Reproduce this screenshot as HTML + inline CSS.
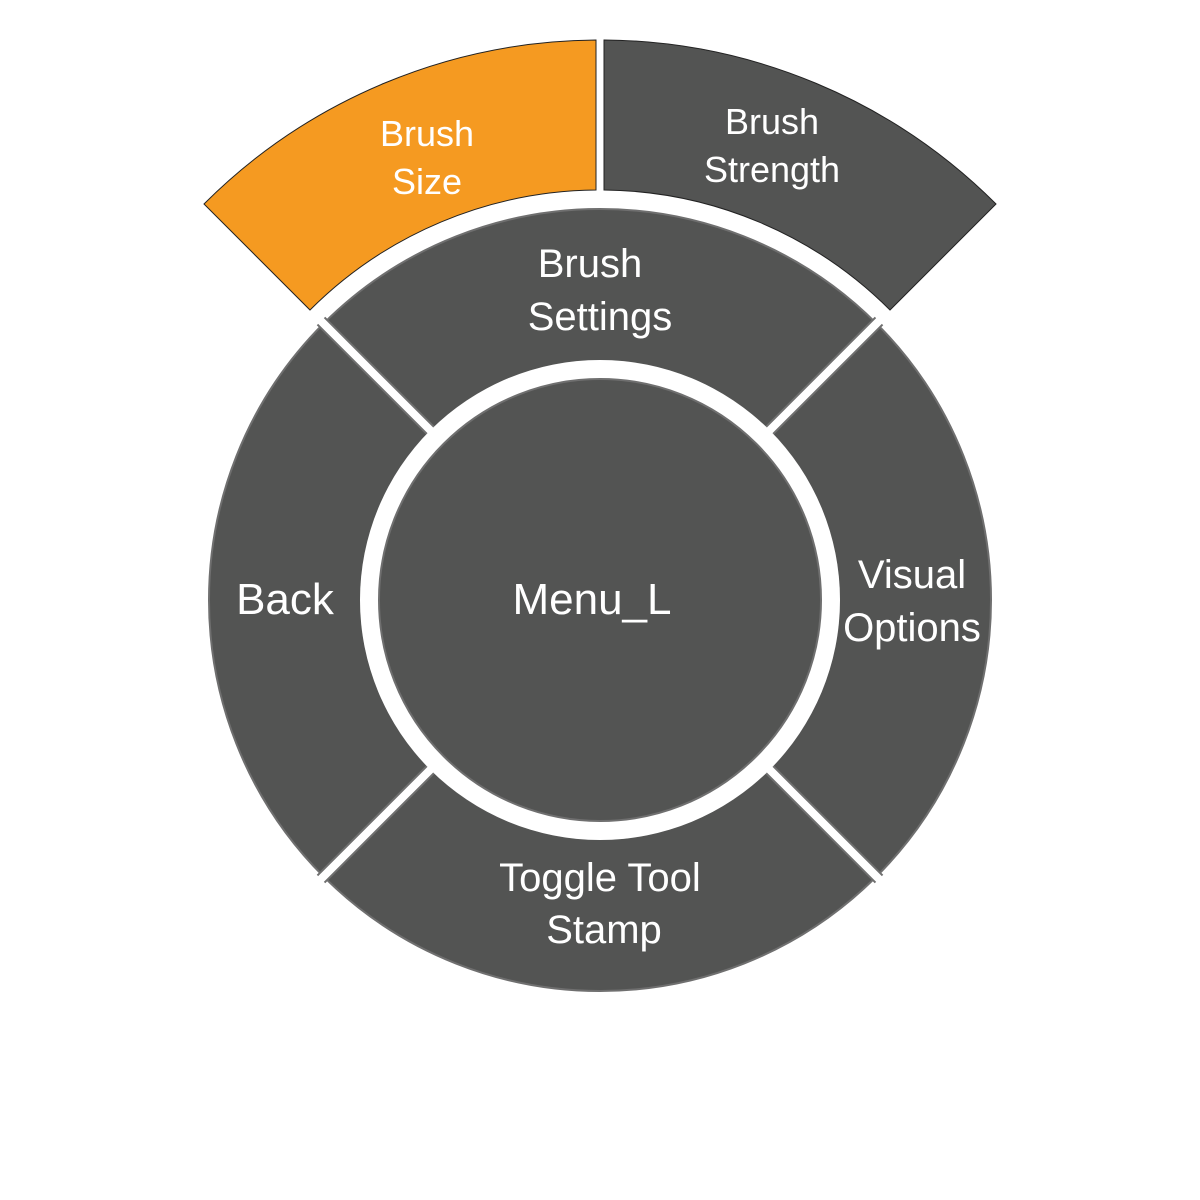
<!DOCTYPE html>
<html><head><meta charset="utf-8"><style>
html,body{margin:0;padding:0;background:#fff;}
svg{display:block;}
text{font-family:"Liberation Sans",sans-serif;fill:#fff;text-anchor:middle;}
</style></head><body>
<svg width="1200" height="1200" viewBox="0 0 1200 1200">
<rect width="1200" height="1200" fill="#fff"/>
<path d="M204 204 A560 560 0 0 1 596 40 L596 190 A410 410 0 0 0 310 310 Z" fill="#F59A21" stroke="#222" stroke-width="1"/>
<path d="M604 40 A560 560 0 0 1 996 204 L890 310 A410 410 0 0 0 604 190 Z" fill="#535453" stroke="#222" stroke-width="1"/>
<circle cx="600" cy="600" r="315" fill="none" stroke="#6f6f6f" stroke-width="154"/>
<circle cx="600" cy="600" r="315" fill="none" stroke="#535453" stroke-width="150"/>
<g stroke="#6f6f6f" stroke-width="12">
<line x1="321" y1="321" x2="879" y2="879"/><line x1="879" y1="321" x2="321" y2="879"/>
</g>
<g stroke="#fff" stroke-width="8">
<line x1="318" y1="318" x2="882" y2="882"/><line x1="882" y1="318" x2="318" y2="882"/>
</g>
<circle cx="600" cy="600" r="240" fill="#fff"/>
<circle cx="600" cy="600" r="221" fill="#535453" stroke="#6f6f6f" stroke-width="2"/>
<g font-size="36">
<text x="427" y="146">Brush</text><text x="427" y="194">Size</text>
<text x="772" y="134">Brush</text><text x="772" y="182">Strength</text>
</g>
<g font-size="40">
<text x="590" y="277">Brush</text><text x="600" y="330">Settings</text>
<text x="912" y="588">Visual</text><text x="912" y="641">Options</text>
<text x="600" y="891">Toggle Tool</text><text x="604" y="943">Stamp</text>
</g>
<g font-size="44">
<text x="285" y="614">Back</text>
<text x="592" y="614">Menu_L</text>
</g>
</svg>
</body></html>
